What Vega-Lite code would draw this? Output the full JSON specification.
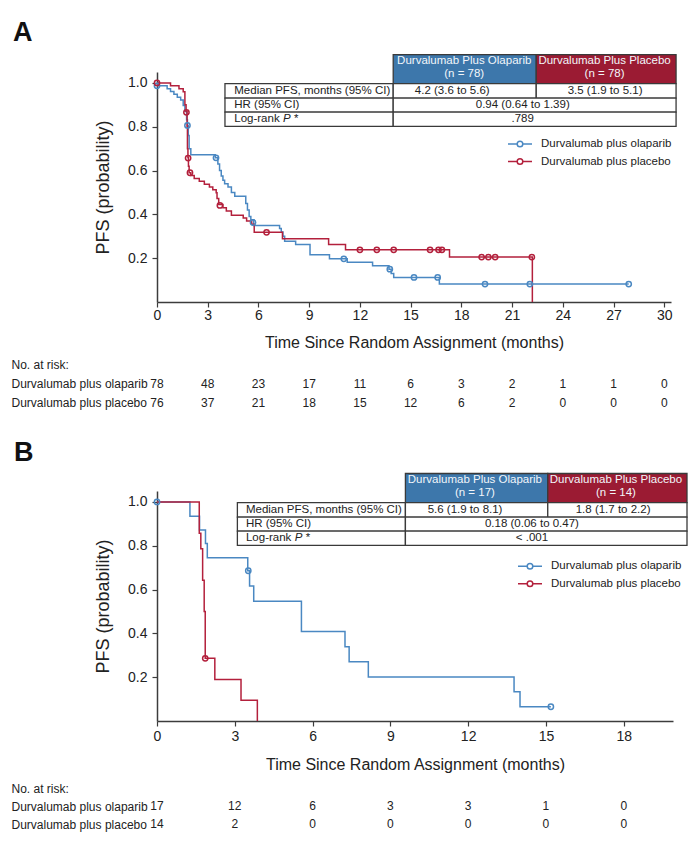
{
  "$schema": "https://vega.github.io/schema/vega-lite/v6.json",
  "background": "white",
  "padding": {"left": 10, "top": 18, "right": 5, "bottom": 5},
  "datasets": {
    "kmA": [
      {"arm": "Durvalumab plus olaparib", "t": 0, "s": 1.0},
      {"arm": "Durvalumab plus olaparib", "t": 0.05, "s": 0.987},
      {"arm": "Durvalumab plus olaparib", "t": 0.6, "s": 0.974},
      {"arm": "Durvalumab plus olaparib", "t": 0.8, "s": 0.961},
      {"arm": "Durvalumab plus olaparib", "t": 1.0, "s": 0.948},
      {"arm": "Durvalumab plus olaparib", "t": 1.2, "s": 0.935},
      {"arm": "Durvalumab plus olaparib", "t": 1.4, "s": 0.922},
      {"arm": "Durvalumab plus olaparib", "t": 1.55, "s": 0.897},
      {"arm": "Durvalumab plus olaparib", "t": 1.65, "s": 0.871},
      {"arm": "Durvalumab plus olaparib", "t": 1.75, "s": 0.832},
      {"arm": "Durvalumab plus olaparib", "t": 1.8, "s": 0.806},
      {"arm": "Durvalumab plus olaparib", "t": 1.85, "s": 0.76},
      {"arm": "Durvalumab plus olaparib", "t": 1.9, "s": 0.7},
      {"arm": "Durvalumab plus olaparib", "t": 2.0, "s": 0.672},
      {"arm": "Durvalumab plus olaparib", "t": 3.45, "s": 0.658},
      {"arm": "Durvalumab plus olaparib", "t": 3.6, "s": 0.63},
      {"arm": "Durvalumab plus olaparib", "t": 3.7, "s": 0.6},
      {"arm": "Durvalumab plus olaparib", "t": 3.8, "s": 0.575},
      {"arm": "Durvalumab plus olaparib", "t": 3.9, "s": 0.556},
      {"arm": "Durvalumab plus olaparib", "t": 4.0, "s": 0.54},
      {"arm": "Durvalumab plus olaparib", "t": 4.2, "s": 0.525},
      {"arm": "Durvalumab plus olaparib", "t": 4.4, "s": 0.5},
      {"arm": "Durvalumab plus olaparib", "t": 4.6, "s": 0.483},
      {"arm": "Durvalumab plus olaparib", "t": 5.25, "s": 0.45},
      {"arm": "Durvalumab plus olaparib", "t": 5.35, "s": 0.42},
      {"arm": "Durvalumab plus olaparib", "t": 5.45, "s": 0.39},
      {"arm": "Durvalumab plus olaparib", "t": 5.55, "s": 0.376},
      {"arm": "Durvalumab plus olaparib", "t": 5.72, "s": 0.349},
      {"arm": "Durvalumab plus olaparib", "t": 7.25, "s": 0.335},
      {"arm": "Durvalumab plus olaparib", "t": 7.35, "s": 0.32},
      {"arm": "Durvalumab plus olaparib", "t": 7.45, "s": 0.3},
      {"arm": "Durvalumab plus olaparib", "t": 7.55, "s": 0.277},
      {"arm": "Durvalumab plus olaparib", "t": 8.2, "s": 0.262},
      {"arm": "Durvalumab plus olaparib", "t": 9.05, "s": 0.216},
      {"arm": "Durvalumab plus olaparib", "t": 10.2, "s": 0.197},
      {"arm": "Durvalumab plus olaparib", "t": 11.25, "s": 0.182},
      {"arm": "Durvalumab plus olaparib", "t": 12.75, "s": 0.166},
      {"arm": "Durvalumab plus olaparib", "t": 13.72, "s": 0.15},
      {"arm": "Durvalumab plus olaparib", "t": 13.85, "s": 0.13},
      {"arm": "Durvalumab plus olaparib", "t": 14.0, "s": 0.112},
      {"arm": "Durvalumab plus olaparib", "t": 16.7, "s": 0.082},
      {"arm": "Durvalumab plus olaparib", "t": 27.9, "s": 0.082},
      {"arm": "Durvalumab plus placebo", "t": 0, "s": 1.0},
      {"arm": "Durvalumab plus placebo", "t": 0.8, "s": 0.987},
      {"arm": "Durvalumab plus placebo", "t": 1.3, "s": 0.974},
      {"arm": "Durvalumab plus placebo", "t": 1.55, "s": 0.96},
      {"arm": "Durvalumab plus placebo", "t": 1.65, "s": 0.9},
      {"arm": "Durvalumab plus placebo", "t": 1.72, "s": 0.87},
      {"arm": "Durvalumab plus placebo", "t": 1.78, "s": 0.8},
      {"arm": "Durvalumab plus placebo", "t": 1.8, "s": 0.7},
      {"arm": "Durvalumab plus placebo", "t": 1.83, "s": 0.66},
      {"arm": "Durvalumab plus placebo", "t": 1.86, "s": 0.62},
      {"arm": "Durvalumab plus placebo", "t": 1.9, "s": 0.59},
      {"arm": "Durvalumab plus placebo", "t": 2.0, "s": 0.577},
      {"arm": "Durvalumab plus placebo", "t": 2.2, "s": 0.564},
      {"arm": "Durvalumab plus placebo", "t": 2.5, "s": 0.551},
      {"arm": "Durvalumab plus placebo", "t": 2.8, "s": 0.538},
      {"arm": "Durvalumab plus placebo", "t": 3.1, "s": 0.525},
      {"arm": "Durvalumab plus placebo", "t": 3.3, "s": 0.512},
      {"arm": "Durvalumab plus placebo", "t": 3.5, "s": 0.499},
      {"arm": "Durvalumab plus placebo", "t": 3.55, "s": 0.472},
      {"arm": "Durvalumab plus placebo", "t": 3.65, "s": 0.445},
      {"arm": "Durvalumab plus placebo", "t": 3.9, "s": 0.43},
      {"arm": "Durvalumab plus placebo", "t": 4.1, "s": 0.416},
      {"arm": "Durvalumab plus placebo", "t": 4.4, "s": 0.396},
      {"arm": "Durvalumab plus placebo", "t": 5.1, "s": 0.383},
      {"arm": "Durvalumab plus placebo", "t": 5.3, "s": 0.37},
      {"arm": "Durvalumab plus placebo", "t": 5.6, "s": 0.355},
      {"arm": "Durvalumab plus placebo", "t": 5.75, "s": 0.318},
      {"arm": "Durvalumab plus placebo", "t": 7.42, "s": 0.289},
      {"arm": "Durvalumab plus placebo", "t": 10.15, "s": 0.263},
      {"arm": "Durvalumab plus placebo", "t": 11.15, "s": 0.238},
      {"arm": "Durvalumab plus placebo", "t": 17.3, "s": 0.205},
      {"arm": "Durvalumab plus placebo", "t": 22.2, "s": 0.0}
    ],
    "censA": [
      {"arm": "Durvalumab plus olaparib", "t": 0, "s": 0.987},
      {"arm": "Durvalumab plus olaparib", "t": 1.8, "s": 0.806},
      {"arm": "Durvalumab plus olaparib", "t": 3.49, "s": 0.658},
      {"arm": "Durvalumab plus olaparib", "t": 5.68, "s": 0.363},
      {"arm": "Durvalumab plus olaparib", "t": 11.05, "s": 0.197},
      {"arm": "Durvalumab plus olaparib", "t": 13.77, "s": 0.15},
      {"arm": "Durvalumab plus olaparib", "t": 15.2, "s": 0.112},
      {"arm": "Durvalumab plus olaparib", "t": 16.6, "s": 0.112},
      {"arm": "Durvalumab plus olaparib", "t": 19.4, "s": 0.082},
      {"arm": "Durvalumab plus olaparib", "t": 22.05, "s": 0.082},
      {"arm": "Durvalumab plus olaparib", "t": 27.9, "s": 0.082},
      {"arm": "Durvalumab plus placebo", "t": 0, "s": 1.0},
      {"arm": "Durvalumab plus placebo", "t": 1.74, "s": 0.866},
      {"arm": "Durvalumab plus placebo", "t": 1.84, "s": 0.657},
      {"arm": "Durvalumab plus placebo", "t": 1.95, "s": 0.59},
      {"arm": "Durvalumab plus placebo", "t": 3.72, "s": 0.441},
      {"arm": "Durvalumab plus placebo", "t": 6.48, "s": 0.318},
      {"arm": "Durvalumab plus placebo", "t": 12.0, "s": 0.238},
      {"arm": "Durvalumab plus placebo", "t": 13.0, "s": 0.238},
      {"arm": "Durvalumab plus placebo", "t": 14.0, "s": 0.238},
      {"arm": "Durvalumab plus placebo", "t": 16.15, "s": 0.238},
      {"arm": "Durvalumab plus placebo", "t": 16.65, "s": 0.238},
      {"arm": "Durvalumab plus placebo", "t": 16.85, "s": 0.238},
      {"arm": "Durvalumab plus placebo", "t": 19.2, "s": 0.205},
      {"arm": "Durvalumab plus placebo", "t": 19.6, "s": 0.205},
      {"arm": "Durvalumab plus placebo", "t": 20.0, "s": 0.205},
      {"arm": "Durvalumab plus placebo", "t": 22.17, "s": 0.205}
    ],
    "kmB": [
      {"arm": "Durvalumab plus olaparib", "t": 0, "s": 1.0},
      {"arm": "Durvalumab plus olaparib", "t": 1.27, "s": 0.935},
      {"arm": "Durvalumab plus olaparib", "t": 1.64, "s": 0.872},
      {"arm": "Durvalumab plus olaparib", "t": 1.87, "s": 0.81},
      {"arm": "Durvalumab plus olaparib", "t": 1.94, "s": 0.745},
      {"arm": "Durvalumab plus olaparib", "t": 3.5, "s": 0.686},
      {"arm": "Durvalumab plus olaparib", "t": 3.57, "s": 0.616},
      {"arm": "Durvalumab plus olaparib", "t": 3.73, "s": 0.547},
      {"arm": "Durvalumab plus olaparib", "t": 5.57, "s": 0.409},
      {"arm": "Durvalumab plus olaparib", "t": 7.25, "s": 0.339},
      {"arm": "Durvalumab plus olaparib", "t": 7.41, "s": 0.271},
      {"arm": "Durvalumab plus olaparib", "t": 8.15, "s": 0.201},
      {"arm": "Durvalumab plus olaparib", "t": 13.77, "s": 0.134},
      {"arm": "Durvalumab plus olaparib", "t": 14.0, "s": 0.065},
      {"arm": "Durvalumab plus olaparib", "t": 15.19, "s": 0.065},
      {"arm": "Durvalumab plus placebo", "t": 0, "s": 1.0},
      {"arm": "Durvalumab plus placebo", "t": 1.63, "s": 0.857},
      {"arm": "Durvalumab plus placebo", "t": 1.69, "s": 0.786},
      {"arm": "Durvalumab plus placebo", "t": 1.76, "s": 0.643},
      {"arm": "Durvalumab plus placebo", "t": 1.82, "s": 0.5},
      {"arm": "Durvalumab plus placebo", "t": 1.86, "s": 0.286},
      {"arm": "Durvalumab plus placebo", "t": 2.23, "s": 0.19},
      {"arm": "Durvalumab plus placebo", "t": 3.24, "s": 0.095},
      {"arm": "Durvalumab plus placebo", "t": 3.87, "s": 0.0}
    ],
    "censB": [
      {"arm": "Durvalumab plus olaparib", "t": 0, "s": 1.0},
      {"arm": "Durvalumab plus olaparib", "t": 3.52, "s": 0.686},
      {"arm": "Durvalumab plus olaparib", "t": 15.19, "s": 0.065},
      {"arm": "Durvalumab plus placebo", "t": 1.86, "s": 0.286}
    ],
    "tabA": [
      {"kind": "olaparib", "x0": 13.97, "x1": 22.43, "y0": 0.997, "y1": 1.129},
      {"kind": "placebo", "x0": 22.43, "x1": 30.7, "y0": 0.997, "y1": 1.129},
      {"kind": "body", "x0": 4.02, "x1": 13.97, "y0": 0.931, "y1": 0.997},
      {"kind": "body", "x0": 13.97, "x1": 22.43, "y0": 0.931, "y1": 0.997},
      {"kind": "body", "x0": 22.43, "x1": 30.7, "y0": 0.931, "y1": 0.997},
      {"kind": "body", "x0": 4.02, "x1": 13.97, "y0": 0.867, "y1": 0.931},
      {"kind": "body", "x0": 13.97, "x1": 30.7, "y0": 0.867, "y1": 0.931},
      {"kind": "body", "x0": 4.02, "x1": 13.97, "y0": 0.802, "y1": 0.867},
      {"kind": "body", "x0": 13.97, "x1": 30.7, "y0": 0.802, "y1": 0.867}
    ],
    "tabB": [
      {"kind": "olaparib", "x0": 9.58, "x1": 15.07, "y0": 0.997, "y1": 1.13},
      {"kind": "placebo", "x0": 15.07, "x1": 20.44, "y0": 0.997, "y1": 1.13},
      {"kind": "body", "x0": 3.1, "x1": 9.58, "y0": 0.931, "y1": 0.997},
      {"kind": "body", "x0": 9.58, "x1": 15.07, "y0": 0.931, "y1": 0.997},
      {"kind": "body", "x0": 15.07, "x1": 20.44, "y0": 0.931, "y1": 0.997},
      {"kind": "body", "x0": 3.1, "x1": 9.58, "y0": 0.867, "y1": 0.931},
      {"kind": "body", "x0": 9.58, "x1": 20.44, "y0": 0.867, "y1": 0.931},
      {"kind": "body", "x0": 3.1, "x1": 9.58, "y0": 0.802, "y1": 0.867},
      {"kind": "body", "x0": 9.58, "x1": 20.44, "y0": 0.802, "y1": 0.867}
    ],
    "txtA": [
      {"kind": "header", "x": 18.17, "y": 1.1, "text": "Durvalumab Plus Olaparib\n(n = 78)"},
      {"kind": "header", "x": 26.47, "y": 1.1, "text": "Durvalumab Plus Placebo\n(n = 78)"},
      {"kind": "label", "x": 4.57, "y": 0.964, "text": "Median PFS, months (95% CI)"},
      {"kind": "label", "x": 4.57, "y": 0.899, "text": "HR (95% CI)"},
      {"kind": "label", "x": 4.57, "y": 0.8345, "text": "Log-rank"},
      {"kind": "italic", "x": 7.45, "y": 0.8345, "text": "P *"},
      {"kind": "value", "x": 17.46, "y": 0.964, "text": "4.2 (3.6 to 5.6)"},
      {"kind": "value", "x": 26.5, "y": 0.964, "text": "3.5 (1.9 to 5.1)"},
      {"kind": "value", "x": 21.63, "y": 0.899, "text": "0.94 (0.64 to 1.39)"},
      {"kind": "value", "x": 21.63, "y": 0.8345, "text": ".789"}
    ],
    "txtB": [
      {"kind": "header", "x": 12.26, "y": 1.1, "text": "Durvalumab Plus Olaparib\n(n = 17)"},
      {"kind": "header", "x": 17.7, "y": 1.1, "text": "Durvalumab Plus Placebo\n(n = 14)"},
      {"kind": "label", "x": 3.43, "y": 0.964, "text": "Median PFS, months (95% CI)"},
      {"kind": "label", "x": 3.43, "y": 0.899, "text": "HR (95% CI)"},
      {"kind": "label", "x": 3.43, "y": 0.8345, "text": "Log-rank"},
      {"kind": "italic", "x": 5.31, "y": 0.8345, "text": "P *"},
      {"kind": "value", "x": 11.88, "y": 0.964, "text": "5.6 (1.9 to 8.1)"},
      {"kind": "value", "x": 17.59, "y": 0.964, "text": "1.8 (1.7 to 2.2)"},
      {"kind": "value", "x": 14.46, "y": 0.899, "text": "0.18 (0.06 to 0.47)"},
      {"kind": "value", "x": 14.46, "y": 0.8345, "text": "< .001"}
    ],
    "riskA": [
      {"row": "Durvalumab plus olaparib", "t": 0, "n": 78},
      {"row": "Durvalumab plus olaparib", "t": 3, "n": 48},
      {"row": "Durvalumab plus olaparib", "t": 6, "n": 23},
      {"row": "Durvalumab plus olaparib", "t": 9, "n": 17},
      {"row": "Durvalumab plus olaparib", "t": 12, "n": 11},
      {"row": "Durvalumab plus olaparib", "t": 15, "n": 6},
      {"row": "Durvalumab plus olaparib", "t": 18, "n": 3},
      {"row": "Durvalumab plus olaparib", "t": 21, "n": 2},
      {"row": "Durvalumab plus olaparib", "t": 24, "n": 1},
      {"row": "Durvalumab plus olaparib", "t": 27, "n": 1},
      {"row": "Durvalumab plus olaparib", "t": 30, "n": 0},
      {"row": "Durvalumab plus placebo", "t": 0, "n": 76},
      {"row": "Durvalumab plus placebo", "t": 3, "n": 37},
      {"row": "Durvalumab plus placebo", "t": 6, "n": 21},
      {"row": "Durvalumab plus placebo", "t": 9, "n": 18},
      {"row": "Durvalumab plus placebo", "t": 12, "n": 15},
      {"row": "Durvalumab plus placebo", "t": 15, "n": 12},
      {"row": "Durvalumab plus placebo", "t": 18, "n": 6},
      {"row": "Durvalumab plus placebo", "t": 21, "n": 2},
      {"row": "Durvalumab plus placebo", "t": 24, "n": 0},
      {"row": "Durvalumab plus placebo", "t": 27, "n": 0},
      {"row": "Durvalumab plus placebo", "t": 30, "n": 0}
    ],
    "riskB": [
      {"row": "Durvalumab plus olaparib", "t": 0, "n": 17},
      {"row": "Durvalumab plus olaparib", "t": 3, "n": 12},
      {"row": "Durvalumab plus olaparib", "t": 6, "n": 6},
      {"row": "Durvalumab plus olaparib", "t": 9, "n": 3},
      {"row": "Durvalumab plus olaparib", "t": 12, "n": 3},
      {"row": "Durvalumab plus olaparib", "t": 15, "n": 1},
      {"row": "Durvalumab plus olaparib", "t": 18, "n": 0},
      {"row": "Durvalumab plus placebo", "t": 0, "n": 14},
      {"row": "Durvalumab plus placebo", "t": 3, "n": 2},
      {"row": "Durvalumab plus placebo", "t": 6, "n": 0},
      {"row": "Durvalumab plus placebo", "t": 9, "n": 0},
      {"row": "Durvalumab plus placebo", "t": 12, "n": 0},
      {"row": "Durvalumab plus placebo", "t": 15, "n": 0},
      {"row": "Durvalumab plus placebo", "t": 18, "n": 0}
    ]
  },
  "vconcat": [
    {
      "spacing": 3,
      "resolve": {"scale": {"x": "independent", "y": "independent", "color": "independent", "fill": "independent"}, "legend": {"color": "independent"}},
      "vconcat": [
        {
          "width": 514,
          "height": 230,
          "title": {"text": "A", "anchor": "start", "frame": "group", "fontSize": 27, "fontWeight": "bold", "offset": 7, "dx": -144, "color": "#111"},
          "layer": [
            {
              "data": {"name": "tabA"},
              "mark": {"type": "rect", "stroke": "#3a3a3a", "strokeWidth": 1.3},
              "encoding": {
                "x": {"field": "x0", "type": "quantitative", "title": "Time Since Random Assignment (months)"},
                "x2": {"field": "x1"},
                "y": {"field": "y0", "type": "quantitative", "title": "PFS (probability)"},
                "y2": {"field": "y1"},
                "fill": {"field": "kind", "type": "nominal", "scale": {"domain": ["olaparib", "placebo", "body"], "range": ["#3d77ab", "#9b1b33", "#ffffff"]}, "legend": null}
              }
            },
            {
              "data": {"name": "txtA"},
              "transform": [{"filter": "datum.kind === 'header'"}],
              "mark": {"type": "text", "fontSize": 11.5, "color": "#f2f6fa", "lineBreak": "\n", "lineHeight": 13, "align": "center", "baseline": "middle"},
              "encoding": {
                "x": {"field": "x", "type": "quantitative", "title": "Time Since Random Assignment (months)"},
                "y": {"field": "y", "type": "quantitative", "title": "PFS (probability)"},
                "text": {"field": "text"}
              }
            },
            {
              "data": {"name": "txtA"},
              "transform": [{"filter": "datum.kind === 'label'"}],
              "mark": {"type": "text", "fontSize": 11.5, "color": "#222", "align": "left", "baseline": "middle"},
              "encoding": {
                "x": {"field": "x", "type": "quantitative", "title": "Time Since Random Assignment (months)"},
                "y": {"field": "y", "type": "quantitative", "title": "PFS (probability)"},
                "text": {"field": "text"}
              }
            },
            {
              "data": {"name": "txtA"},
              "transform": [{"filter": "datum.kind === 'italic'"}],
              "mark": {"type": "text", "fontSize": 11.5, "color": "#222", "align": "left", "baseline": "middle", "fontStyle": "italic"},
              "encoding": {
                "x": {"field": "x", "type": "quantitative", "title": "Time Since Random Assignment (months)"},
                "y": {"field": "y", "type": "quantitative", "title": "PFS (probability)"},
                "text": {"field": "text"}
              }
            },
            {
              "data": {"name": "txtA"},
              "transform": [{"filter": "datum.kind === 'value'"}],
              "mark": {"type": "text", "fontSize": 11.5, "color": "#222", "align": "center", "baseline": "middle"},
              "encoding": {
                "x": {"field": "x", "type": "quantitative", "title": "Time Since Random Assignment (months)"},
                "y": {"field": "y", "type": "quantitative", "title": "PFS (probability)"},
                "text": {"field": "text"}
              }
            },
            {
              "data": {"name": "kmA"},
              "mark": {"type": "line", "interpolate": "step-after", "strokeWidth": 1.5},
              "encoding": {
                "x": {"field": "t", "type": "quantitative", "title": "Time Since Random Assignment (months)",
                  "scale": {"domain": [0, 30.4], "nice": false, "zero": false},
                  "axis": {"values": [0, 3, 6, 9, 12, 15, 18, 21, 24, 27, 30], "tickSize": 5, "labelPadding": 1, "titlePadding": 12, "titleFontSize": 16}},
                "y": {"field": "s", "type": "quantitative", "title": "PFS (probability)",
                  "scale": {"domain": [0, 1.05], "nice": false},
                  "axis": {"values": [0.2, 0.4, 0.6, 0.8, 1.0], "format": ".1f", "tickSize": 5, "labelPadding": 5, "titlePadding": 15, "titleFontSize": 18}},
                "color": {"field": "arm", "type": "nominal",
                  "scale": {"domain": ["Durvalumab plus olaparib", "Durvalumab plus placebo"], "range": ["#4a88c2", "#b3203c"]},
                  "legend": {"orient": "none", "legendX": 357, "legendY": 66, "title": null, "padding": 0,
                    "symbolType": "M-2.4,0L-0.56,0M0.56,0L2.4,0M0.56,0A0.56,0.56,0,1,1,-0.56,0A0.56,0.56,0,1,1,0.56,0",
                    "symbolSize": 100, "symbolStrokeWidth": 1.5, "symbolFillColor": "transparent",
                    "labelFontSize": 11.5, "labelOffset": 15, "rowPadding": 5.5, "labelColor": "#222"}}
              }
            },
            {
              "data": {"name": "censA"},
              "mark": {"type": "point", "shape": "circle", "filled": false, "size": 28, "strokeWidth": 1.5, "opacity": 1},
              "encoding": {
                "x": {"field": "t", "type": "quantitative", "title": "Time Since Random Assignment (months)"},
                "y": {"field": "s", "type": "quantitative", "title": "PFS (probability)"},
                "color": {"field": "arm", "type": "nominal"}
              }
            }
          ]
        },
        {
          "width": 514,
          "height": 57,
          "data": {"name": "riskA"},
          "mark": {"type": "text", "fontSize": 12, "color": "#222"},
          "encoding": {
            "x": {"field": "t", "type": "quantitative", "scale": {"domain": [0, 30.4], "nice": false, "zero": false}, "axis": null},
            "y": {"field": "row", "type": "nominal",
              "scale": {"domain": ["No. at risk:", "Durvalumab plus olaparib", "Durvalumab plus placebo"], "paddingInner": 0, "paddingOuter": 0},
              "axis": {"title": null, "labelAlign": "left", "labelPadding": 146, "ticks": false, "tickSize": 0, "domain": false, "labelFontSize": 12, "labelColor": "#222", "labelLimit": 300}},
            "text": {"field": "n"}
          }
        }
      ]
    },
    {
      "spacing": 5,
      "resolve": {"scale": {"x": "independent", "y": "independent", "color": "independent", "fill": "independent"}, "legend": {"color": "independent"}},
      "vconcat": [
        {
          "width": 516,
          "height": 230,
          "title": {"text": "B", "anchor": "start", "frame": "group", "fontSize": 27, "fontWeight": "bold", "offset": 6, "dx": -143, "color": "#111"},
          "layer": [
            {
              "data": {"name": "tabB"},
              "mark": {"type": "rect", "stroke": "#3a3a3a", "strokeWidth": 1.3},
              "encoding": {
                "x": {"field": "x0", "type": "quantitative", "title": "Time Since Random Assignment (months)"},
                "x2": {"field": "x1"},
                "y": {"field": "y0", "type": "quantitative", "title": "PFS (probability)"},
                "y2": {"field": "y1"},
                "fill": {"field": "kind", "type": "nominal", "scale": {"domain": ["olaparib", "placebo", "body"], "range": ["#3d77ab", "#9b1b33", "#ffffff"]}, "legend": null}
              }
            },
            {
              "data": {"name": "txtB"},
              "transform": [{"filter": "datum.kind === 'header'"}],
              "mark": {"type": "text", "fontSize": 11.5, "color": "#f2f6fa", "lineBreak": "\n", "lineHeight": 13, "align": "center", "baseline": "middle"},
              "encoding": {
                "x": {"field": "x", "type": "quantitative", "title": "Time Since Random Assignment (months)"},
                "y": {"field": "y", "type": "quantitative", "title": "PFS (probability)"},
                "text": {"field": "text"}
              }
            },
            {
              "data": {"name": "txtB"},
              "transform": [{"filter": "datum.kind === 'label'"}],
              "mark": {"type": "text", "fontSize": 11.5, "color": "#222", "align": "left", "baseline": "middle"},
              "encoding": {
                "x": {"field": "x", "type": "quantitative", "title": "Time Since Random Assignment (months)"},
                "y": {"field": "y", "type": "quantitative", "title": "PFS (probability)"},
                "text": {"field": "text"}
              }
            },
            {
              "data": {"name": "txtB"},
              "transform": [{"filter": "datum.kind === 'italic'"}],
              "mark": {"type": "text", "fontSize": 11.5, "color": "#222", "align": "left", "baseline": "middle", "fontStyle": "italic"},
              "encoding": {
                "x": {"field": "x", "type": "quantitative", "title": "Time Since Random Assignment (months)"},
                "y": {"field": "y", "type": "quantitative", "title": "PFS (probability)"},
                "text": {"field": "text"}
              }
            },
            {
              "data": {"name": "txtB"},
              "transform": [{"filter": "datum.kind === 'value'"}],
              "mark": {"type": "text", "fontSize": 11.5, "color": "#222", "align": "center", "baseline": "middle"},
              "encoding": {
                "x": {"field": "x", "type": "quantitative", "title": "Time Since Random Assignment (months)"},
                "y": {"field": "y", "type": "quantitative", "title": "PFS (probability)"},
                "text": {"field": "text"}
              }
            },
            {
              "data": {"name": "kmB"},
              "mark": {"type": "line", "interpolate": "step-after", "strokeWidth": 1.5},
              "encoding": {
                "x": {"field": "t", "type": "quantitative", "title": "Time Since Random Assignment (months)",
                  "scale": {"domain": [0, 19.9], "nice": false, "zero": false},
                  "axis": {"values": [0, 3, 6, 9, 12, 15, 18], "tickSize": 5, "labelPadding": 3, "titlePadding": 13, "titleFontSize": 16}},
                "y": {"field": "s", "type": "quantitative", "title": "PFS (probability)",
                  "scale": {"domain": [0, 1.05], "nice": false},
                  "axis": {"values": [0.2, 0.4, 0.6, 0.8, 1.0], "format": ".1f", "tickSize": 5, "labelPadding": 5, "titlePadding": 15, "titleFontSize": 18}},
                "color": {"field": "arm", "type": "nominal",
                  "scale": {"domain": ["Durvalumab plus olaparib", "Durvalumab plus placebo"], "range": ["#4a88c2", "#b3203c"]},
                  "legend": {"orient": "none", "legendX": 367, "legendY": 69.3, "title": null, "padding": 0,
                    "symbolType": "M-2.4,0L-0.56,0M0.56,0L2.4,0M0.56,0A0.56,0.56,0,1,1,-0.56,0A0.56,0.56,0,1,1,0.56,0",
                    "symbolSize": 100, "symbolStrokeWidth": 1.5, "symbolFillColor": "transparent",
                    "labelFontSize": 11.5, "labelOffset": 15, "rowPadding": 5.5, "labelColor": "#222"}}
              }
            },
            {
              "data": {"name": "censB"},
              "mark": {"type": "point", "shape": "circle", "filled": false, "size": 28, "strokeWidth": 1.5, "opacity": 1},
              "encoding": {
                "x": {"field": "t", "type": "quantitative", "title": "Time Since Random Assignment (months)"},
                "y": {"field": "s", "type": "quantitative", "title": "PFS (probability)"},
                "color": {"field": "arm", "type": "nominal"}
              }
            }
          ]
        },
        {
          "width": 516,
          "height": 54,
          "data": {"name": "riskB"},
          "mark": {"type": "text", "fontSize": 12, "color": "#222"},
          "encoding": {
            "x": {"field": "t", "type": "quantitative", "scale": {"domain": [0, 19.9], "nice": false, "zero": false}, "axis": null},
            "y": {"field": "row", "type": "nominal",
              "scale": {"domain": ["No. at risk:", "Durvalumab plus olaparib", "Durvalumab plus placebo"], "paddingInner": 0, "paddingOuter": 0},
              "axis": {"title": null, "labelAlign": "left", "labelPadding": 146, "ticks": false, "tickSize": 0, "domain": false, "labelFontSize": 12, "labelColor": "#222", "labelLimit": 300}},
            "text": {"field": "n"}
          }
        }
      ]
    }
  ],
  "spacing": 25,
  "resolve": {"scale": {"x": "independent", "y": "independent", "color": "independent", "fill": "independent"}, "legend": {"color": "independent"}},
  "config": {
    "font": "Liberation Sans",
    "view": {"stroke": "transparent"},
    "axis": {"grid": false, "domainColor": "#3c3c3c", "tickColor": "#3c3c3c", "domainWidth": 1.5, "tickWidth": 1.2,
      "labelColor": "#222", "titleColor": "#222", "titleFontWeight": "normal", "labelFontSize": 14,
      "labelFlush": false, "labelOverlap": false, "labelFont": "Liberation Sans", "titleFont": "Liberation Sans"},
    "text": {"font": "Liberation Sans"},
    "legend": {"labelFont": "Liberation Sans"}
  }
}
